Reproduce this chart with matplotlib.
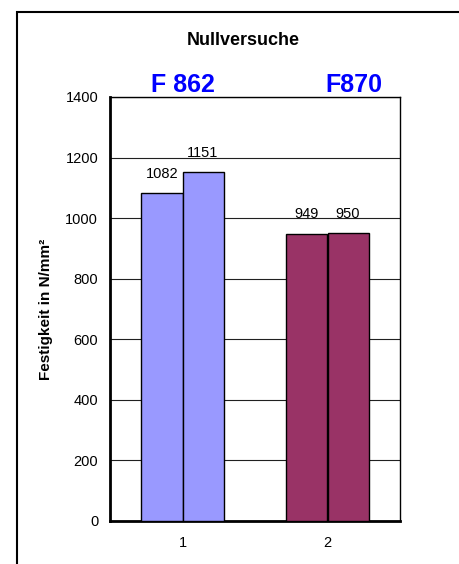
import numpy as np
import matplotlib.pyplot as plt
from matplotlib.patches import Rectangle

plt.rcParams['font.family'] = ['Liberation Sans', 'DejaVu Sans']

# Festigkeit der Nullversuche, je zwei Proben pro Werkstoff
groups = [1, 2]
series_a = [1082, 949]
series_b = [1151, 950]
group_colors = ['#9999FF', '#993366']
group_names = ['F 862', 'F870']

fig = plt.figure(figsize=(4.6, 5.64), dpi=100)
ax = fig.add_axes([110 / 460, 43 / 564, 290 / 460, 424 / 564])

width = 0.283
x = np.array(groups, dtype=float)
bars_a = ax.bar(x - width / 2, series_a, width, color=group_colors,
                edgecolor='black', linewidth=1, zorder=3)
bars_b = ax.bar(x + width / 2, series_b, width, color=group_colors,
                edgecolor='black', linewidth=1, zorder=3)

# Werte über den Balken
for bars, vals in [(bars_a, series_a), (bars_b, series_b)]:
    for b, v in zip(bars, vals):
        ax.annotate(str(v), (b.get_x() + b.get_width() / 2, v),
                    xytext=(0, 11), textcoords='offset points',
                    ha='center', va='baseline', fontsize=10.5)

ax.set_xlim(0.5, 2.5)
ax.set_ylim(0, 1400)
ax.set_yticks(np.arange(0, 1401, 200))
ax.set_xticks(groups)
ax.yaxis.grid(True, color='#202020', linewidth=0.8, zorder=0)
ax.set_axisbelow(True)
ax.tick_params(axis='y', length=0, pad=8.5, labelsize=10.5)
ax.tick_params(axis='x', length=0, pad=11, labelsize=10.5)

for side in ['left', 'bottom']:
    ax.spines[side].set_linewidth(2)
for side in ['top', 'right']:
    ax.spines[side].set_linewidth(1)

ax.set_ylabel('Festigkeit in N/mm²', fontsize=11, fontweight='bold', labelpad=9)

fig.text(243 / 460, 1 - 45 / 564, 'Nullversuche', ha='center', va='baseline',
         fontsize=13, fontweight='bold')
fig.text(183 / 460, 1 - 92 / 564, group_names[0], ha='center', va='baseline',
         fontsize=18, fontweight='bold', color='#0000FF')
fig.text(354 / 460, 1 - 92 / 564, group_names[1], ha='center', va='baseline',
         fontsize=18, fontweight='bold', color='#0000FF')

# Rahmen um das Diagramm
fig.add_artist(Rectangle((17 / 460, -0.1), 1.2, 1 - 12 / 564 + 0.1,
                         transform=fig.transFigure, fill=False,
                         edgecolor='black', linewidth=1.5))

fig.savefig('out.png', dpi=100)
